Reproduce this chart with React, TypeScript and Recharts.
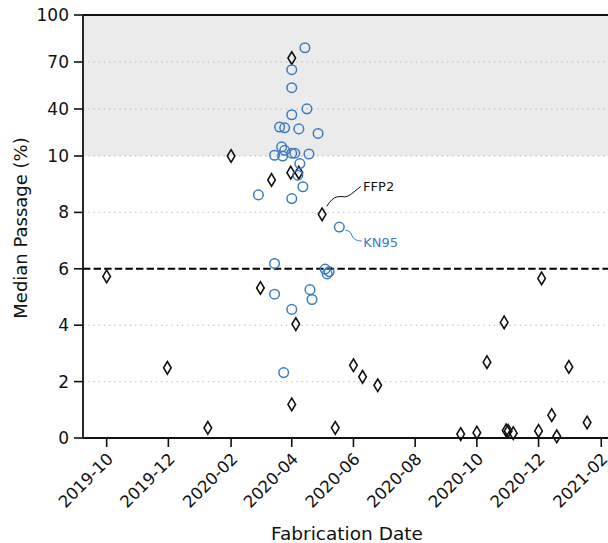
import {
  ScatterChart,
  Scatter,
  XAxis,
  YAxis,
  ReferenceArea,
  ReferenceLine,
  ReferenceDot,
} from 'recharts';

// FFP2 masks: fabrication date and median passage (%)
const ffp2Dates = [
  '2019-10-01', '2019-11-30', '2020-01-09', '2020-02-01', '2020-04-01', '2020-03-12',
  '2020-03-31', '2020-04-08', '2020-03-01', '2020-04-05', '2020-04-01', '2020-05-01',
  '2020-05-14', '2020-06-01', '2020-06-10', '2020-06-25', '2020-09-15', '2020-10-01',
  '2020-10-11', '2020-10-28', '2020-10-30', '2020-11-01', '2020-11-06', '2020-12-01',
  '2020-12-04', '2020-12-14', '2020-12-19', '2020-12-31', '2021-01-18',
];
const ffp2Values = [
  5.73, 2.49, 0.36, 10.0, 72.5, 9.15,
  9.41, 9.41, 5.32, 4.04, 1.19, 7.93,
  0.36, 2.58, 2.17, 1.87, 0.14, 0.19,
  2.69, 4.1, 0.27, 0.25, 0.17, 0.25,
  5.66, 0.81, 0.06, 2.52, 0.55,
];

// KN95 masks
const kn95Dates = [
  '2020-04-14', '2020-04-01', '2020-04-01', '2020-04-16', '2020-04-01', '2020-03-20',
  '2020-03-25', '2020-04-08', '2020-04-27', '2020-03-22', '2020-03-25', '2020-03-15',
  '2020-03-23', '2020-04-01', '2020-04-04', '2020-04-18', '2020-04-09', '2020-04-07',
  '2020-04-12', '2020-02-28', '2020-04-01', '2020-05-18', '2020-03-15', '2020-05-04',
  '2020-05-06', '2020-05-08', '2020-03-15', '2020-04-19', '2020-04-21', '2020-04-01',
  '2020-03-24',
];
const kn95Values = [
  79.1, 65.1, 53.6, 40.1, 36.3, 28.5,
  28.0, 27.3, 24.4, 15.8, 13.6, 10.5,
  10.0, 11.8, 11.8, 11.3, 9.73, 9.32,
  8.91, 8.62, 8.49, 7.48, 6.19, 5.99,
  5.82, 5.9, 5.1, 5.26, 4.91, 4.56,
  2.32,
];

const yTickValues = [0, 2, 4, 6, 8, 10, 40, 70, 100];
const gridValues = [2, 4, 8, 10, 40, 70];
const xTickDates = [
  '2019-10-01', '2019-12-01', '2020-02-01', '2020-04-01', '2020-06-01',
  '2020-08-01', '2020-10-01', '2020-12-01', '2021-02-01',
];
const threshold = 6;
const shadeFrom = 10;

const BLUE = '#3b7cbf';
const DAY = 86400000;

const toDay = (s: string) => {
  const [y, m, d] = s.split('-').map(Number);
  return Date.UTC(y, m - 1, d) / DAY;
};

// linear up to 10, compressed above (10 -> 100 spans 5 units)
const toAxis = (v: number) => (v <= 10 ? v : 10 + (v - 10) / 18);

const ffp2 = ffp2Dates.map((d, i) => ({ x: toDay(d), y: toAxis(ffp2Values[i]) }));
const kn95 = kn95Dates.map((d, i) => ({ x: toDay(d), y: toAxis(kn95Values[i]) }));

const xStart = toDay('2019-10-01') - 23.4;
const xEnd = toDay('2019-10-01') + 527.3;

const fmtDate = (v: number) => {
  const d = new Date(Math.round(v) * DAY);
  return `${d.getUTCFullYear()}-${String(d.getUTCMonth() + 1).padStart(2, '0')}`;
};

const fmtY = (v: number) => {
  const hit = yTickValues.find((t) => Math.abs(toAxis(t) - v) < 0.01);
  return hit === undefined ? '' : String(hit);
};

const FONT = 'DejaVu Sans, sans-serif';

const Diamond = (props: any) => {
  const { cx, cy } = props;
  const w = 3.8;
  const h = 6.3;
  return (
    <path
      d={`M${cx},${cy - h} L${cx + w},${cy} L${cx},${cy + h} L${cx - w},${cy} Z`}
      fill="none"
      stroke="#111"
      strokeWidth={1.6}
    />
  );
};

const Ring = (props: any) => {
  const { cx, cy } = props;
  return <circle cx={cx} cy={cy} r={4.8} fill="none" stroke={BLUE} strokeWidth={1.5} />;
};

const DateTick = (props: any) => {
  const { x, y, payload } = props;
  return (
    <g transform={`translate(${x + 7.5},${y + 11}) rotate(-45)`}>
      <text x={0} y={0} textAnchor="end" fontSize={16.5} fontFamily={FONT} fill="#111">
        {fmtDate(payload.value)}
      </text>
    </g>
  );
};

const Note = (label: string, color: string, path: string, tx: number, ty: number) =>
  (props: any) => {
    const { cx, cy } = props;
    return (
      <g transform={`translate(${cx},${cy})`}>
        <path d={path} fill="none" stroke={color} strokeWidth={1} />
        <text x={tx} y={ty} fontSize={13} fontFamily={FONT} fill={color}>
          {label}
        </text>
      </g>
    );
  };

const ffp2Note = Note(
  'FFP2',
  '#111',
  'M4.7,-8 Q7,-12 9.7,-14.5 Q12,-16.8 15,-17.5 Q19,-18.3 22.7,-17.5 Q26,-17.8 28.5,-19.8 L38.7,-28',
  41,
  -23
);
const kn95Note = Note('KN95', BLUE, 'M6,3 Q11,3.5 12,7 Q13,11 16,12.5 Q19,14 22.5,14', 24, 20);

export default function App() {
  const yTicks = yTickValues.map(toAxis);
  const xTicks = xTickDates.map(toDay);
  const tickStyle = { fontSize: 17, fontFamily: FONT, fill: '#111' };

  return (
    <div style={{ position: 'fixed', left: 0, top: 0, width: 608, height: 543, overflow: 'hidden', background: '#fff' }}>
      <ScatterChart width={640} height={543} margin={{ top: 15, right: 0, bottom: 0, left: 0 }}>
        <ReferenceArea
          y1={toAxis(shadeFrom)}
          y2={toAxis(100)}
          fill="#ebebeb"
          fillOpacity={1}
          stroke="none"
          ifOverflow="extendDomain"
        />
        {gridValues.map((g) => (
          <ReferenceLine key={g} y={toAxis(g)} stroke="#c9c9c9" strokeWidth={1.4} strokeDasharray="1.4 3.8" />
        ))}
        <ReferenceLine y={threshold} stroke="#000" strokeWidth={2} strokeDasharray="7.4 3.2" />
        <ReferenceLine y={toAxis(100)} stroke="#111" strokeWidth={1.8} />
        <XAxis
          type="number"
          dataKey="x"
          domain={[xStart, xEnd]}
          ticks={xTicks}
          allowDataOverflow
          height={105}
          tick={<DateTick />}
          tickSize={9}
          tickLine={{ stroke: '#111', strokeWidth: 1.6 }}
          axisLine={{ stroke: '#111', strokeWidth: 1.8 }}
          label={{
            content: () => (
              <text x={347} y={540} textAnchor="middle" fontSize={18.5} fontFamily={FONT} fill="#111">
                Fabrication Date
              </text>
            ),
          }}
        />
        <YAxis
          type="number"
          dataKey="y"
          domain={[0, toAxis(100)]}
          ticks={yTicks}
          interval={0}
          tickFormatter={fmtY}
          width={83}
          tick={tickStyle}
          tickSize={9}
          tickMargin={5}
          tickLine={{ stroke: '#111', strokeWidth: 1.6 }}
          axisLine={{ stroke: '#111', strokeWidth: 1.8 }}
          label={{
            content: () => (
              <text
                transform="translate(27,228) rotate(-90)"
                textAnchor="middle"
                fontSize={18}
                fontFamily={FONT}
                fill="#111"
              >
                Median Passage (%)
              </text>
            ),
          }}
        />
        <Scatter name="FFP2" data={ffp2} shape={Diamond} isAnimationActive={false} />
        <Scatter name="KN95" data={kn95} shape={Ring} isAnimationActive={false} />
        <ReferenceDot x={toDay('2020-05-01')} y={toAxis(7.93)} r={0} shape={ffp2Note} />
        <ReferenceDot x={toDay('2020-05-18')} y={toAxis(7.48)} r={0} shape={kn95Note} />
      </ScatterChart>
    </div>
  );
}
